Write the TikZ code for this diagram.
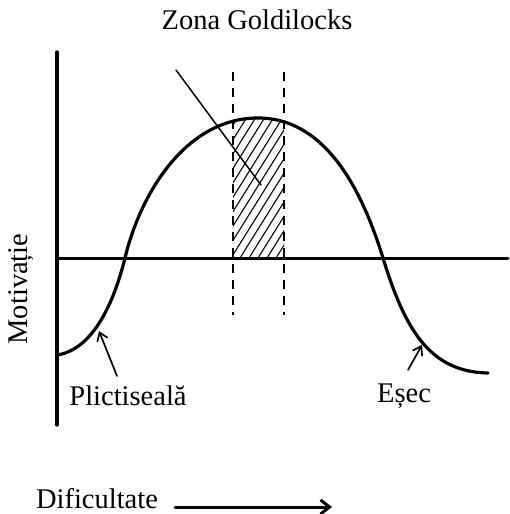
\documentclass[tikz,border=0pt]{standalone}
\usepackage{fontspec}
\setmainfont{Liberation Serif}
\usetikzlibrary{arrows.meta}

\begin{document}
\begin{tikzpicture}[x=1pt, y=-1pt, line cap=round, line join=round,
  lbl/.style={font=\fontsize{28.5}{32}\selectfont, inner sep=0pt},
  dashline/.style={line width=2.4pt, line cap=butt, dash pattern=on 9pt off 7pt},
  hatch/.style={line width=1.1pt},
  ptr/.style={line width=1.7pt, -{Straight Barb[length=8pt, width=11pt]}}]

  %% ════ axe ════
  \draw[line width=3.2pt] (57,52) -- (57,425);
  \draw[line width=3.0pt] (57,258) -- (508,258);

  %% ════ zona hașurată ════
  \begin{scope}
    \clip (233,258) rectangle (284,100);
    \clip (125,258) .. controls (140,195) and (185,118) .. (258,118)
       .. controls (330,118) and (365,200) .. (383,258) -- cycle;
    \foreach \i in {150,159,...,300}
      \draw[hatch] (\i,258) -- ++(100,-160);
  \end{scope}

  %% ════ linii punctate ════
  \draw[dashline] (233,72) -- (233,315);
  \draw[dashline] (284,72) -- (284,315);

  %% ════ curba ════
  \draw[line width=3.2pt] (57,355) .. controls (90,350) and (112,310) .. (125,258)
     .. controls (140,195) and (185,118) .. (258,118)
     .. controls (330,118) and (365,200) .. (383,258)
     .. controls (405,330) and (430,372) .. (488,373);

  %% ════ etichete ════
  \node[lbl] (zona) at (257,20) {Zona Goldilocks};
  \node[lbl, rotate=90] (motiv) at (21,289) {Motivație};
  \node[lbl] (plict) at (128,396) {Plictiseală};
  \node[lbl] (esec) at (404,396) {Eșec};
  \node[lbl] (dific) at (97,499) {Dificultate};

  % capete de săgeți pe curbă
  \coordinate (ptr-start) at (176,70);
  \coordinate (ptr-end) at (261,185);
  \coordinate (pl-tail) at (117,376);
  \coordinate (pl-head) at (99,331);
  \coordinate (es-tail) at (408,370);
  \coordinate (es-head) at (422,345);
  \coordinate (df-tail) at (175,507);
  \coordinate (df-head) at (332,507);

  \draw[line width=1.5pt] (ptr-start) -- (ptr-end);
  \draw[ptr] (pl-tail) -- (pl-head);
  \draw[ptr] (es-tail) -- (es-head);
  \draw[line width=3.0pt, -{Straight Barb[length=9pt, width=14pt]}] (df-tail) -- (df-head);

  \pgfresetboundingbox
  \path[use as bounding box] (0,0) rectangle (509,514);
\end{tikzpicture}
\end{document}
